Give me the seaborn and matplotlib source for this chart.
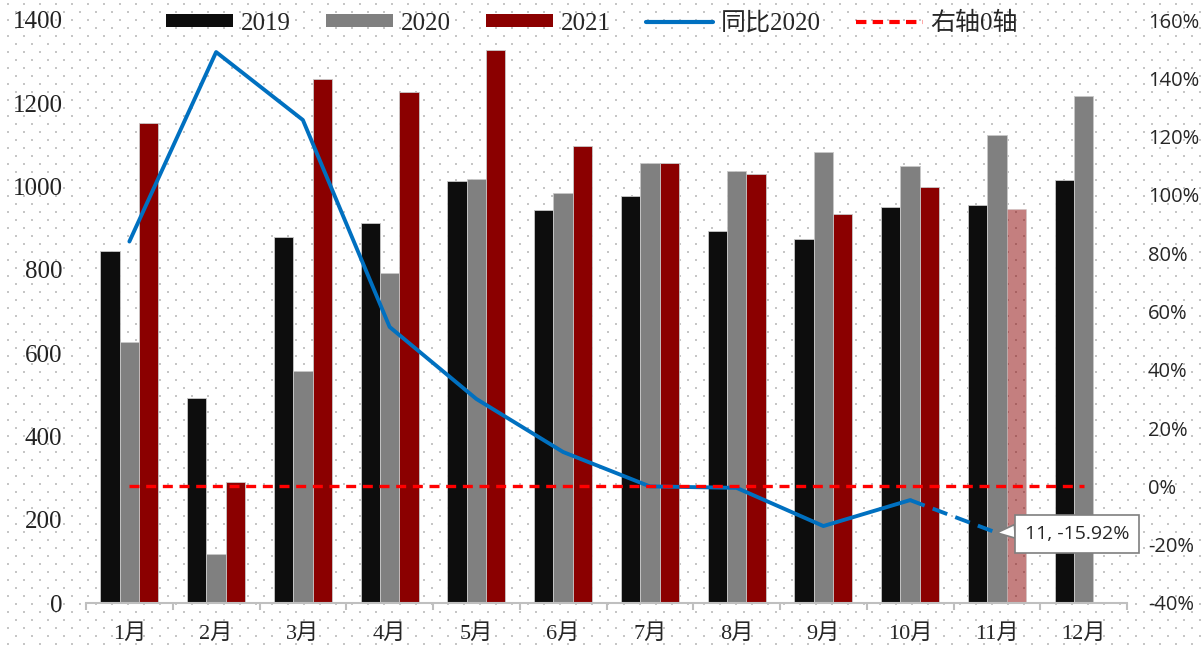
"""
Monthly volume 2019-2021 with YoY line vs 2020 (right axis)
"""

import numpy as np
import pandas as pd
import matplotlib
matplotlib.use('Agg')
import matplotlib.pyplot as plt
from matplotlib.patches import Patch
from matplotlib.lines import Line2D
from matplotlib.ticker import PercentFormatter
import seaborn as sns

# ---- data ----
months = ['1月', '2月', '3月', '4月', '5月', '6月', '7月', '8月', '9月', '10月', '11月', '12月']
years = ['2019', '2020', '2021']
v2019 = [845, 492, 879, 913, 1013, 944, 977, 893, 874, 951, 956, 1016]
v2020 = [627, 118, 557, 792, 1018, 985, 1057, 1037, 1083, 1049, 1124, 1217]
v2021 = [1153, 291, 1258, 1227, 1328, 1097, 1057, 1030, 934, 999, 946, np.nan]
yoy_2020 = [0.84, 1.49, 1.257, 0.547, 0.30, 0.118, 0.0, -0.005, -0.136, -0.047, -0.1592]
zero_line = [0.0] * len(months)

bar_colors = ['#0D0D0D', '#808080', '#8B0000']
line_color = '#0070C0'
dash_color = '#FF0000'

df = pd.DataFrame({
    'month': months * 3,
    'year': np.repeat(years, len(months)),
    'value': v2019 + v2020 + v2021,
})

sns.set_style('white')
plt.rcParams['axes.unicode_minus'] = False
serif_cjk = ['Liberation Serif', 'Noto Sans CJK SC']
plt.rcParams['font.family'] = serif_cjk

fig = plt.figure(figsize=(12.01, 6.49), dpi=100)

# dotted page background (Excel-style 5% pattern)
H, W = 649, 1201
bg = np.ones((H, W, 3))
for r in range(3, H, 8):
    off = 7 if (r // 8) % 2 == 0 else 15
    for c in range(off, W, 16):
        bg[r:r + 2, c:c + 2] = 0.78
bg_img = fig.figimage(bg, xo=0, yo=0, origin='upper')
bg_img.set_zorder(-10)

ax = fig.add_axes([86 / W, 46 / H, (1127 - 86) / W, (603 - 20) / H])
ax.patch.set_alpha(0)

sns.barplot(data=df, x='month', y='value', hue='year', hue_order=years,
            palette=bar_colors, width=0.67, saturation=1, ax=ax,
            edgecolor='#C8C8C8', linewidth=0.6, legend=False)

# November 2021 bar is drawn semi-transparent in the source
ax.containers[2][10].set_alpha(0.5)

ax.set_xlim(-0.5, len(months) - 0.5)
ax.set_ylim(0, 1400)
ax.set_yticks(np.arange(0, 1401, 200))
ax.set_xlabel('')
ax.set_ylabel('')
for s in ['left', 'right', 'top']:
    ax.spines[s].set_visible(False)
ax.spines['bottom'].set_color('#BFBFBF')
ax.spines['bottom'].set_linewidth(1.5)

# tick marks between groups, labels centred on groups
ax.set_xticks(np.arange(len(months) + 1) - 0.5, labels=[''] * (len(months) + 1))
ax.set_xticks(np.arange(len(months)), labels=months, minor=True)
ax.tick_params(axis='x', which='major', length=5, width=1.5, color='#BFBFBF',
               direction='out', bottom=True)
ax.tick_params(axis='x', which='minor', length=0, pad=15, labelsize=16)
ax.tick_params(axis='y', length=0, pad=17, labelsize=18, labelcolor='#222222')
ax.grid(False)

# right axis: yoy line
ax2 = ax.twinx()
ax2.patch.set_alpha(0)
x_pos = np.arange(len(yoy_2020))
sns.lineplot(x=x_pos[:10], y=yoy_2020[:10], color=line_color, lw=2.8, ax=ax2)
ax2.plot(x_pos[9:11], yoy_2020[9:11], color=line_color, lw=2.8,
         dashes=(4, 2.2))
ax2.plot(np.arange(len(months)), zero_line, color=dash_color, lw=2.4,
         dashes=(3, 2))
ax2.set_ylim(-0.4, 1.6)
ax2.set_yticks(np.arange(-0.4, 1.61, 0.2))
ax2.yaxis.set_major_formatter(PercentFormatter(1.0, decimals=0))
ax2.tick_params(axis='y', length=0, pad=15, labelsize=14.5)
for lab in ax2.get_yticklabels():
    lab.set_fontfamily('Open Sans')
for s in ['left', 'right', 'top', 'bottom']:
    ax2.spines[s].set_visible(False)
ax2.grid(False)

ax2.annotate('11, -15.92%', xy=(10, yoy_2020[10]), xytext=(58, -1),
             textcoords='offset points', ha='center', va='center',
             fontsize=14, family='Open Sans',
             bbox=dict(boxstyle='square,pad=0.5', fc='white', ec='#7F7F7F', lw=1.2),
             arrowprops=dict(arrowstyle='wedge,tail_width=0.7,shrink_factor=0.5',
                             fc='white', ec='#7F7F7F', lw=1.2,
                             shrinkA=0, shrinkB=0, relpos=(0.0, 0.7)))

handles = [Patch(facecolor=c, edgecolor='none') for c in bar_colors]
handles.append(Line2D([], [], color=line_color, lw=3))
handles.append(Line2D([], [], color=dash_color, lw=3, dashes=(2.5, 1.5)))
labels = years + ['同比2020', '右轴0轴']
fig.legend(handles, labels, loc='center', bbox_to_anchor=(592 / W, 1 - 23 / H),
           ncol=5, frameon=False, handlelength=2.7,
           handleheight=0.45, handletextpad=0.3, columnspacing=1.4,
           borderpad=0, prop={'family': serif_cjk, 'size': 18})

fig.savefig('out.png', dpi=100)
